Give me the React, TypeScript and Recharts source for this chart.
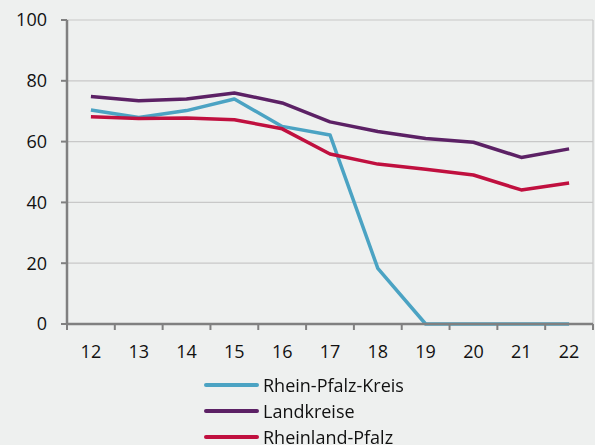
import React from 'react';
import {
  LineChart,
  Line,
  XAxis,
  YAxis,
  CartesianGrid,
  ReferenceLine,
  Legend,
} from 'recharts';

const years = [12, 13, 14, 15, 16, 17, 18, 19, 20, 21, 22];
const rheinPfalzKreis = [70.4, 67.9, 70.2, 74, 65, 62.2, 18.3, 0, 0, 0, 0];
const landkreise = [74.8, 73.4, 74, 76, 72.7, 66.5, 63.3, 61, 59.8, 54.8, 57.6];
const rheinlandPfalz = [68.2, 67.6, 67.8, 67.2, 64.2, 55.9, 52.6, 50.9, 49, 44.1, 46.4];
const yTicks = [0, 20, 40, 60, 80, 100];

const SERIES = [
  { key: 'rpk', name: 'Rhein-Pfalz-Kreis', color: '#4ba3c3', values: rheinPfalzKreis },
  { key: 'lk', name: 'Landkreise', color: '#5c2165', values: landkreise },
  { key: 'rlp', name: 'Rheinland-Pfalz', color: '#c0103f', values: rheinlandPfalz },
];

const data = years.map((year, i) => ({
  year,
  rpk: rheinPfalzKreis[i],
  lk: landkreise[i],
  rlp: rheinlandPfalz[i],
}));

// labels sit on the years, tick marks between them
const xTicks = [11.5, ...years.flatMap((y) => [y, y + 0.5])];

const FONT = '"Open Sans", "Noto Sans", sans-serif';
const AXIS = '#808080';
const TEXT = '#111111';

const XTick = (props: any) => {
  const { x, y, payload } = props;
  const v = payload.value as number;
  if (v % 1 !== 0) {
    return <line x1={x} x2={x} y1={y} y2={y + 6} stroke={AXIS} strokeWidth={2} />;
  }
  return (
    <text x={x} y={y + 34} textAnchor="middle" fontSize={18} fontFamily={FONT} fill={TEXT}>
      {v}
    </text>
  );
};

const LegendBox = () => (
  <div style={{ height: 80, paddingTop: 7, boxSizing: 'border-box', fontFamily: FONT }}>
    {SERIES.map((s) => (
      <div
        key={s.key}
        style={{ height: 26, display: 'flex', alignItems: 'center', paddingLeft: 204 }}
      >
        <span
          style={{
            display: 'inline-block',
            width: 55,
            height: 4,
            borderRadius: 2,
            background: s.color,
            marginRight: 4,
          }}
        />
        <span style={{ fontSize: 18, color: TEXT }}>{s.name}</span>
      </div>
    ))}
  </div>
);

export default function App() {
  return (
    <div style={{ position: 'fixed', inset: 0, background: '#eef0ef' }}>
      <LineChart
        width={595}
        height={445}
        data={data}
        margin={{ top: 20, right: 2, left: 0, bottom: 0 }}
      >
        <CartesianGrid horizontal vertical={false} stroke="#c8c8c8" strokeWidth={1.2} />
        <XAxis
          dataKey="year"
          type="number"
          domain={[11.5, 22.5]}
          ticks={xTicks}
          interval={0}
          tick={<XTick />}
          tickLine={false}
          tickSize={0}
          tickMargin={0}
          height={41}
          axisLine={{ stroke: AXIS, strokeWidth: 2.5 }}
        />
        <YAxis
          domain={[0, 100]}
          ticks={yTicks}
          interval={0}
          width={67}
          tickSize={6}
          tickMargin={14}
          tick={{ fontSize: 18, fontFamily: FONT, fill: TEXT }}
          tickLine={{ stroke: AXIS, strokeWidth: 2 }}
          axisLine={{ stroke: AXIS, strokeWidth: 2.5 }}
        />
        <ReferenceLine x={22.5} stroke="#c8c8c8" strokeWidth={1.2} />
        <Legend verticalAlign="bottom" content={<LegendBox />} />
        {SERIES.map((s) => (
          <Line
            key={s.key}
            dataKey={s.key}
            name={s.name}
            stroke={s.color}
            strokeWidth={3.5}
            strokeLinejoin="round"
            dot={false}
            activeDot={false}
            isAnimationActive={false}
          />
        ))}
      </LineChart>
    </div>
  );
}
